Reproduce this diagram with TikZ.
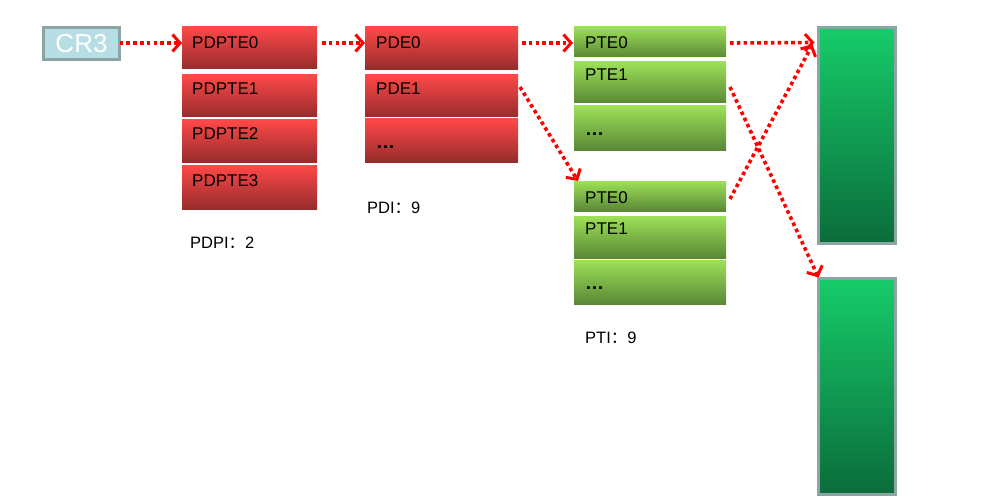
\documentclass[tikz,border=0pt]{standalone}
\usepackage{fontspec}
\setmainfont{Liberation Sans}
\newfontfamily\cjk{Noto Sans CJK SC}
\usetikzlibrary{arrows.meta,calc}
\definecolor{redT}{HTML}{FF4848}
\definecolor{redB}{HTML}{962C2C}
\definecolor{grnT}{HTML}{9DE058}
\definecolor{grnB}{HTML}{5A8836}
\definecolor{pgT}{HTML}{16CC6A}
\definecolor{pgB}{HTML}{0B6C3A}
\definecolor{pgE}{HTML}{8CA4A4}
\definecolor{crF}{HTML}{B7DEE4}
\definecolor{arrR}{HTML}{FF0000}
\begin{document}
\begin{tikzpicture}[x=1pt,y=-1pt,
  box/.style={draw=none, anchor=north west, inner sep=0pt, outer sep=0pt},
  redbox/.style={box, top color=redT, bottom color=redB},
  grnbox/.style={box, top color=grnT, bottom color=grnB},
  pagebox/.style={box, draw=pgE, line width=3pt, top color=pgT, bottom color=pgB, minimum width=77pt, minimum height=216pt},
  lbl/.style={anchor=west, inner sep=0pt, font=\fontsize{17}{20}\selectfont},
  ellip/.style={anchor=west, inner sep=0pt, font=\fontsize{19}{20}\selectfont\bfseries},
  capt/.style={anchor=west, inner sep=0pt, font=\fontsize{16.5}{20}\selectfont},
  arr/.style={draw=arrR, line width=3.6pt, dash pattern=on 3.6pt off 3.2pt,
     -{Straight Barb[length=7.5pt,width=17pt,line width=3pt]}}
]
\useasboundingbox (0,0) rectangle (989,503);

% CR3
\node[box, draw=pgE, line width=3pt, fill=crF, minimum width=76pt, minimum height=32pt,
      text=white, font=\fontsize{26}{28}\selectfont] (cr3) at (43.5,27.5) {CR3};

% PDPTE table
\node[redbox, minimum width=135pt, minimum height=42pt] (pdpte0) at (182,27) {};
\node[redbox, minimum width=135pt, minimum height=42pt] (pdpte1) at (182,75) {};
\node[redbox, minimum width=135pt, minimum height=42pt] (pdpte2) at (182,120) {};
\node[redbox, minimum width=135pt, minimum height=44pt] (pdpte3) at (182,165) {};
\node[lbl] (t-pdpte0) at ($(pdpte0.north west)+(10,16)$) {PDPTE0};
\node[lbl] (t-pdpte1) at ($(pdpte1.north west)+(10,14)$) {PDPTE1};
\node[lbl] (t-pdpte2) at ($(pdpte2.north west)+(10,14)$) {PDPTE2};
\node[lbl] (t-pdpte3) at ($(pdpte3.north west)+(10,16)$) {PDPTE3};
\node[capt] (pdpi) at (190,243) {PDPI{\cjk ：}2};

% PDE table
\node[redbox, minimum width=153pt, minimum height=43pt] (pde0) at (365,27) {};
\node[redbox, minimum width=153pt, minimum height=42pt] (pde1) at (365,75) {};
\node[redbox, minimum width=153pt, minimum height=43pt] (pde2) at (365,119) {};
\node[lbl] (t-pde0) at ($(pde0.north west)+(11,16)$) {PDE0};
\node[lbl] (t-pde1) at ($(pde1.north west)+(11,14)$) {PDE1};
\node[ellip] (t-pde2) at ($(pde2.north west)+(11,28)$) {…};
\node[capt] (pdi) at (367,208) {PDI{\cjk ：}9};

% PTE table 1
\node[grnbox, minimum width=152pt, minimum height=30pt] (pteA0) at (574,27) {};
\node[grnbox, minimum width=152pt, minimum height=41pt] (pteA1) at (574,62) {};
\node[grnbox, minimum width=152pt, minimum height=44pt] (pteA2) at (574,106) {};
\node[lbl] (t-pteA0) at ($(pteA0.north west)+(11,16)$) {PTE0};
\node[lbl] (t-pteA1) at ($(pteA1.north west)+(11,13)$) {PTE1};
\node[ellip] (t-pteA2) at ($(pteA2.north west)+(11,28)$) {…};

% PTE table 2
\node[grnbox, minimum width=152pt, minimum height=30pt] (pteB0) at (574,181) {};
\node[grnbox, minimum width=152pt, minimum height=42pt] (pteB1) at (574,216) {};
\node[grnbox, minimum width=152pt, minimum height=44pt] (pteB2) at (574,260) {};
\node[lbl] (t-pteB0) at ($(pteB0.north west)+(11,17)$) {PTE0};
\node[lbl] (t-pteB1) at ($(pteB1.north west)+(11,13)$) {PTE1};
\node[ellip] (t-pteB2) at ($(pteB2.north west)+(11,28)$) {…};
\node[capt] (pti) at (585,338) {PTI{\cjk ：}9};

% pages
\node[pagebox] (pg1) at (818.5,27.5) {};
\node[pagebox] (pg2) at (818.5,278.5) {};

% arrows
\draw[arr] (cr3.east |- 0,43) -- ($(pdpte0.north west)+(0,16)$);
\draw[arr] ($(pdpte0.north east)+(5,16)$) -- ($(pde0.north west)+(0,16)$);
\draw[arr] ($(pde0.north east)+(4,16)$) -- ($(pteA0.north west)+(-1,16)$);
\draw[arr] ($(pde1.north east)+(2,12)$) -- ($(pteB0.north west)+(4,0)$);
\draw[arr] ($(pteA0.north east)+(4,16)$) -- ($(pg1.north west)+(-4,15)$);
\draw[arr] ($(pteB0.north east)+(4,18)$) -- ($(pg1.north west)+(-6,17)$);
\draw[arr] ($(pteA1.north east)+(4,25)$) -- ($(pg2.north west)+(0,-1)$);
\end{tikzpicture}
\end{document}
